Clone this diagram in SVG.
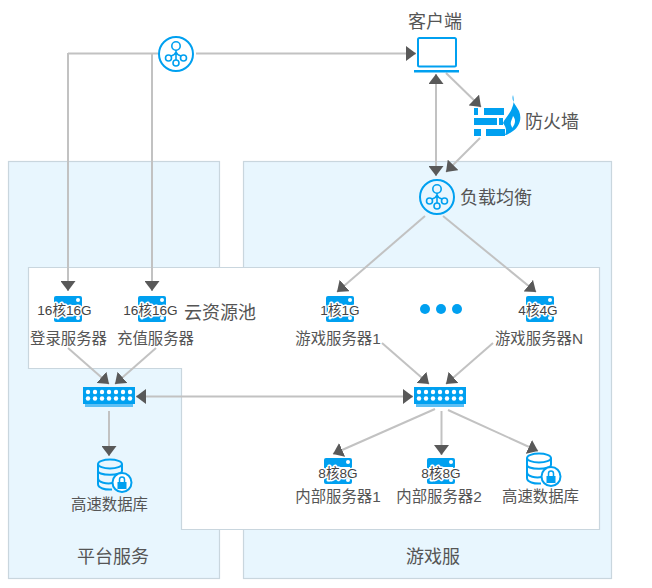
<svg xmlns="http://www.w3.org/2000/svg" xmlns:xlink="http://www.w3.org/1999/xlink" width="652" height="588" viewBox="0 0 652 588">
<style>
text{font-family:"Liberation Sans","Noto Sans CJK SC",sans-serif;fill:#555;text-anchor:middle}
.l{font-size:15.4px}.t{font-size:18px}
.s{font-size:13.6px;fill:#444;stroke:#fff;stroke-width:3px;paint-order:stroke;stroke-linejoin:round}
.panel{fill:#e8f6fe;stroke:#c9d6de;stroke-width:1.2}
.cloud{fill:#fff;stroke:#c9d6de;stroke-width:1.2}
.c{fill:none;stroke:#c2c2c2;stroke-width:2;marker-end:url(#a)}
.d{marker-start:url(#a)}
.n{fill:none;stroke:#c2c2c2;stroke-width:2}
.b{fill:#00a0f0}
.o{fill:none;stroke:#00a0f0;stroke-width:2}
.i{fill:none;stroke:#00a0f0;stroke-width:1.600}
</style>
<defs>
<marker id="a" markerUnits="userSpaceOnUse" viewBox="0 0 10 15" refX="10" refY="7.500" markerWidth="10" markerHeight="15" orient="auto-start-reverse"><path d="M0,0L10,7.500L0,15Z" fill="#595959"/></marker>
<g id="server"><rect x="0" y="0" width="28" height="26" rx="2" fill="#00a0f0"/><rect x="2" y="9" width="24" height="8" fill="#fff"/><circle cx="24" cy="4" r="2" fill="#fff"/><circle cx="24" cy="22" r="2" fill="#fff"/><circle cx="4" cy="22" r="1.500" fill="#fff"/></g>
<g id="switch"><rect x="2" y="17" width="48" height="3" fill="#5bbff5"/><rect width="52" height="17" fill="#00a0f0"/><g fill="#fff"><circle cx="5" cy="5" r="2.2"/><circle cx="12" cy="5" r="2.2"/><circle cx="19" cy="5" r="2.2"/><circle cx="26" cy="5" r="2.2"/><circle cx="33" cy="5" r="2.2"/><circle cx="40" cy="5" r="2.2"/><circle cx="47" cy="5" r="2.2"/><circle cx="5" cy="11.5" r="2.2"/><circle cx="12" cy="11.5" r="2.2"/><circle cx="19" cy="11.5" r="2.2"/><circle cx="26" cy="11.5" r="2.2"/><circle cx="33" cy="11.5" r="2.2"/><circle cx="40" cy="11.5" r="2.2"/><circle cx="47" cy="11.5" r="2.2"/></g></g>
<g id="hub"><circle r="17" class="o"/><circle cy="-8" r="4.2" class="i"/><circle cx="-7.500" cy="4" r="3" class="i"/><circle cx="7.500" cy="4" r="3" class="i"/><circle cy="9" r="3" class="i"/><path class="i" d="M0,-4V6M-5,2Q-1,1 0,-2Q1,1 5,2"/></g>
<g id="db"><ellipse cx="13" cy="5" rx="12" ry="4.500" class="o"/><path class="o" d="M1,5V25C1,29 8,31 15,30.500M25,5V12M1,12C1,17 25,17 25,12M1,19C1,24 10,25 16,24"/><circle cx="25" cy="23.500" r="9.500" fill="#fff" stroke="#00a0f0" stroke-width="2"/><rect x="20.500" y="23" width="9" height="7" fill="#00a0f0"/><path d="M22.500,23V20.500a2.500,2.500 0 0 1 5,0V23" fill="none" stroke="#00a0f0" stroke-width="1.500"/></g>
</defs>
<rect width="652" height="588" fill="#fff"/>
<g id="panels">
<rect class="panel" x="8.500" y="161.500" width="211" height="417"/>
<rect class="panel" x="243.500" y="161.500" width="368" height="417"/>
<path class="cloud" d="M28.500,267.500H599.500V529.500H181.500V368.500H28.500Z"/>
</g>
<g id="connectors">
<path class="n" d="M158,53.500H68"/>
<path class="c" d="M68,53V291"/>
<path class="c" d="M152,54V291"/>
<path class="c" d="M196,53.500H416"/>
<path class="c d" d="M436,74V176"/>
<path class="c" d="M446,73L481,107"/>
<path class="c" d="M480,138L446,172"/>
<path class="c" d="M425,216L337,292"/>
<path class="c" d="M443,216L536,292"/>
<path class="c" d="M68,348L109,384"/>
<path class="c" d="M156,348L115,384"/>
<path class="c" d="M382,343L429,384"/>
<path class="c" d="M493,343L446,384"/>
<path class="c d" d="M136,396.500H413"/>
<path class="c" d="M109,411V456"/>
<path class="c" d="M435,409L333,454"/>
<path class="c" d="M441.500,411V455"/>
<path class="c" d="M448,410L538,451"/>
</g>
<g id="hub-top"><use xlink:href="#hub" href="#hub" x="176" y="54"/></g>
<g id="client"><rect x="418" y="38" width="38" height="28.500" rx="1.500" class="o"/><rect x="414" y="70" width="45" height="2.500" class="b"/><text class="t" x="435" y="28">客户端</text></g>
<g id="firewall"><path class="b" d="M474,108H478V115H474ZM484,108H504V115H484ZM474,118H497V125H474ZM499,118H503V125H499ZM474,129H481V136H474ZM486,129H505V136H486Z"/><path class="b" fill-rule="evenodd" d="M513,95C511,101 516,105 519,111C522,118 520,126 513,131C510,133 507,135 505,135C507,131 506,127 503,123C505,118 510,114 512,108C514,104 514,99 513,95ZM513,116C512,120 510,122 511,125C512,127 512,127 512,128C514,126 515,123 515,121C515,119 514,117 513,116Z"/><text class="t" x="552" y="128">防火墙</text></g>
<g id="lb"><use xlink:href="#hub" href="#hub" x="437" y="197"/><text class="t" x="496" y="204">负载均衡</text></g>
<g id="cloud-label"><text class="t" x="220" y="319">云资源池</text></g>
<g id="srv-login"><use xlink:href="#server" href="#server" x="54" y="296"/><text class="s" x="64.500" y="315">16核16G</text><text class="l" x="68.500" y="344">登录服务器</text></g>
<g id="srv-charge"><use xlink:href="#server" href="#server" x="138" y="296"/><text class="s" x="150.500" y="315">16核16G</text><text class="l" x="155.500" y="344">充值服务器</text></g>
<g id="srv-game1"><use xlink:href="#server" href="#server" x="326" y="296"/><text class="s" x="340" y="315">1核1G</text><text class="l" x="338" y="344">游戏服务器1</text></g>
<g id="dots"><circle class="b" cx="425" cy="309" r="5"/><circle class="b" cx="441" cy="309" r="5"/><circle class="b" cx="457" cy="309" r="5"/></g>
<g id="srv-gamen"><use xlink:href="#server" href="#server" x="526" y="296"/><text class="s" x="538" y="315">4核4G</text><text class="l" x="539" y="344">游戏服务器N</text></g>
<g id="switch-left"><use xlink:href="#switch" href="#switch" x="83" y="387"/></g>
<g id="switch-right"><use xlink:href="#switch" href="#switch" x="414" y="387"/></g>
<g id="db-left"><use xlink:href="#db" href="#db" x="97" y="459"/><text class="l" x="109.500" y="510">高速数据库</text></g>
<g id="srv-in1"><use xlink:href="#server" href="#server" x="324" y="458"/><text class="s" x="338" y="478">8核8G</text><text class="l" x="338" y="502">内部服务器1</text></g>
<g id="srv-in2"><use xlink:href="#server" href="#server" x="427" y="458"/><text class="s" x="441" y="478">8核8G</text><text class="l" x="439" y="502">内部服务器2</text></g>
<g id="db-right"><use xlink:href="#db" href="#db" x="526" y="453"/><text class="l" x="540.500" y="502">高速数据库</text></g>
<g id="label-platform"><text class="t" x="113" y="563">平台服务</text></g>
<g id="label-game"><text class="t" x="433" y="563">游戏服</text></g>
</svg>
